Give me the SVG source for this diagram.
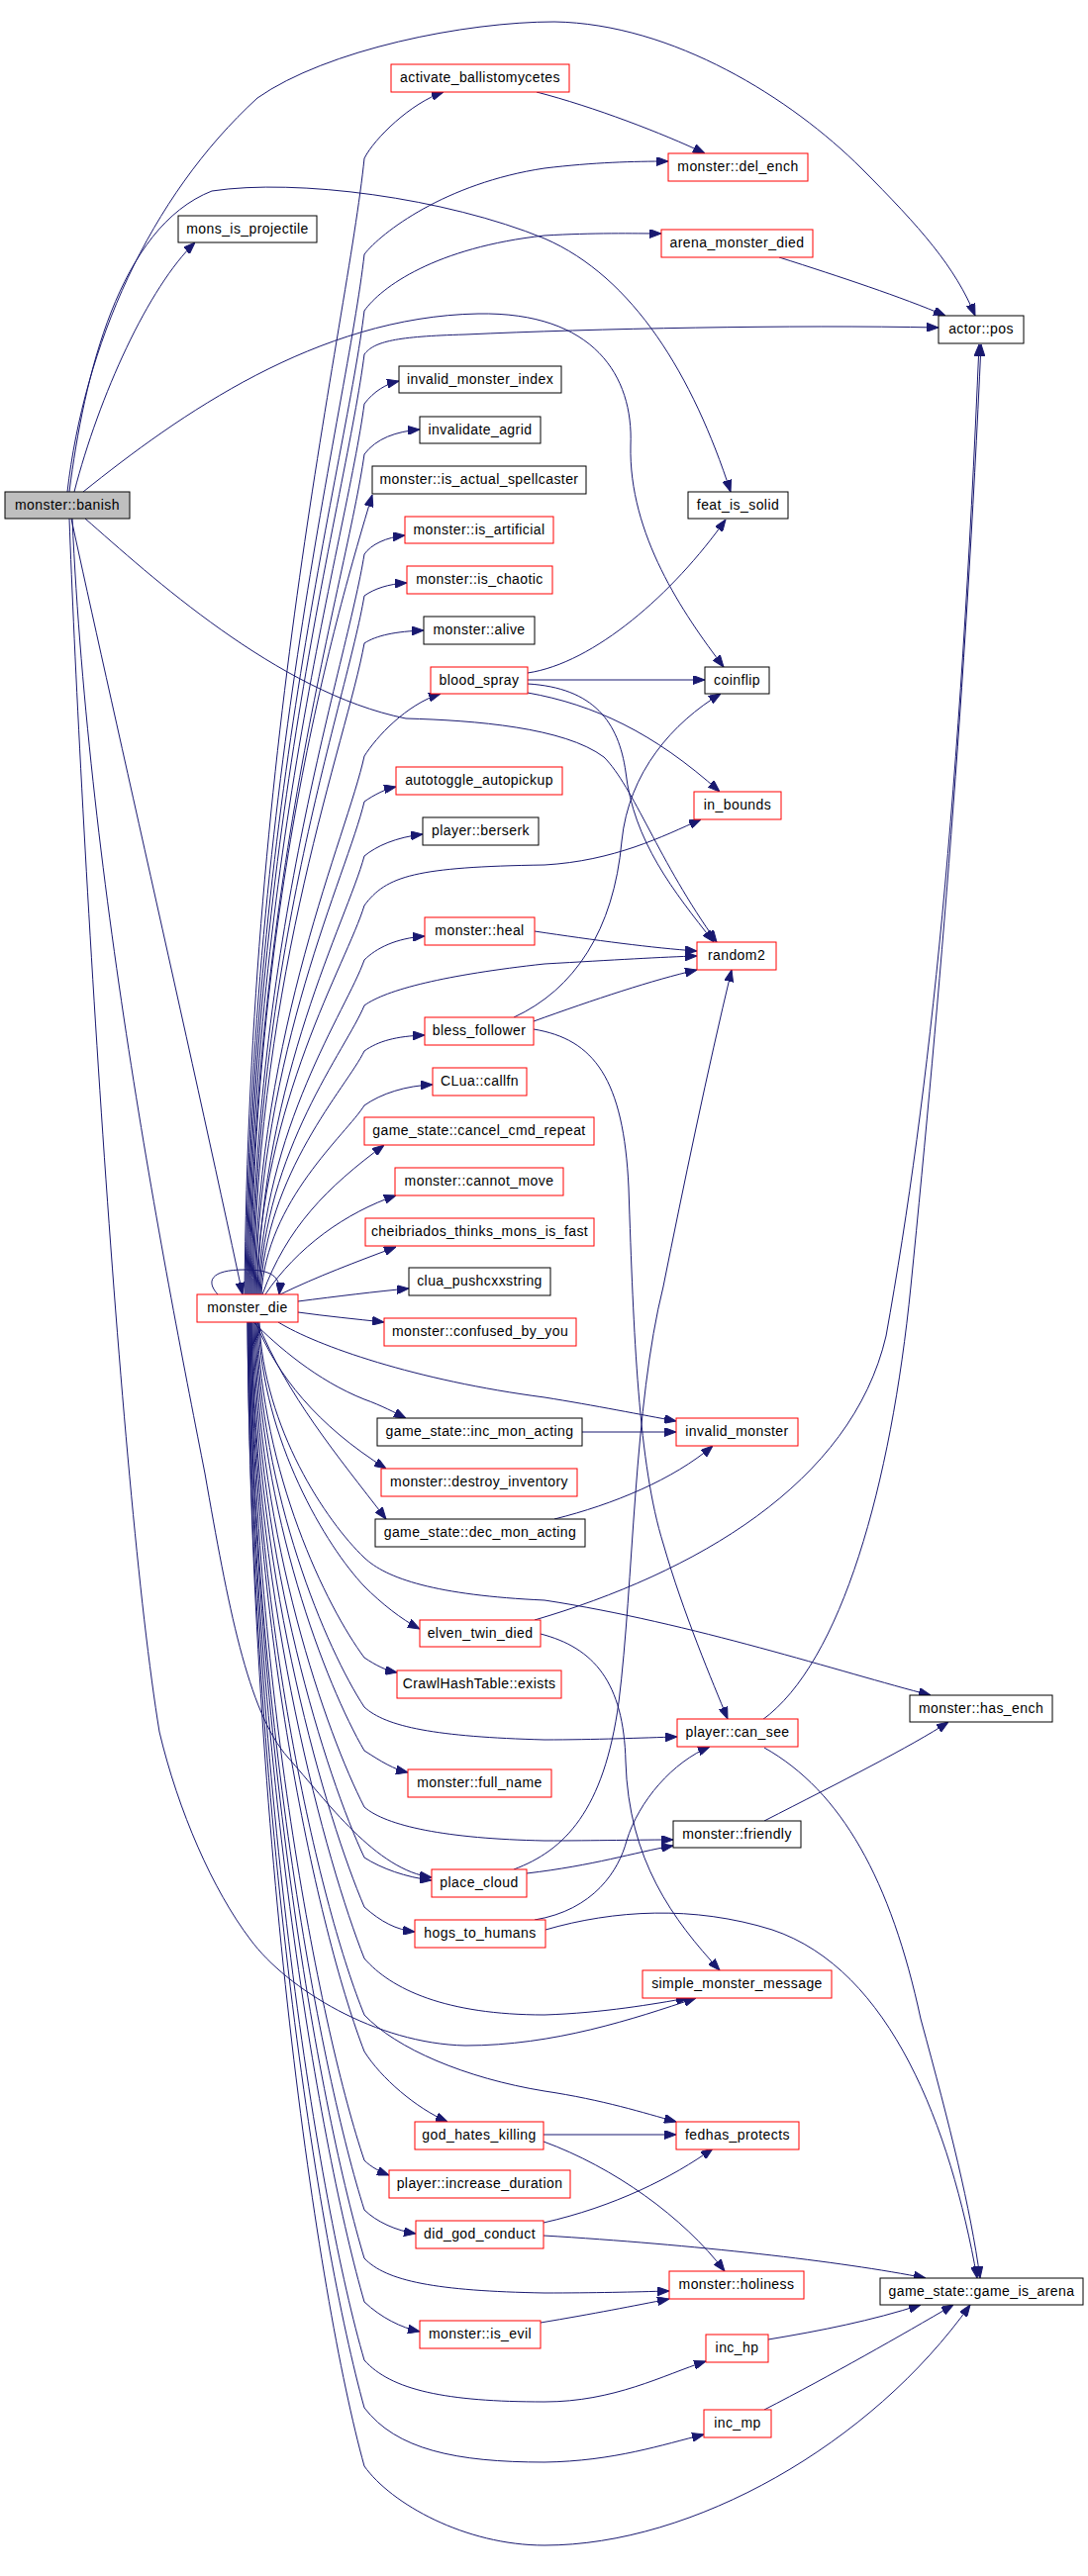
<svg xmlns="http://www.w3.org/2000/svg" width="1099" height="2603" viewBox="0 0 1099 2603">
<defs>
<marker id="a" markerWidth="12" markerHeight="9" refX="12" refY="4.5" orient="auto" markerUnits="userSpaceOnUse"><path d="M0,0 L12,4.5 L0,9 z" fill="#191970" stroke="#191970" stroke-width="1"/></marker>
<style>
.e path{fill:none;stroke:#191970;stroke-width:1;marker-end:url(#a)}
.node rect{fill:#ffffff;stroke:#000000;stroke-width:1}
.node.r rect{stroke:#ff0000}
.node.root rect{fill:#bfbfbf}
.node text{font-family:"Liberation Sans",Arial,sans-serif;font-size:14px;letter-spacing:0.42px;text-anchor:middle;fill:#000000}
</style>
</defs>
<rect width="1099" height="2603" fill="#ffffff"/>
<g id="connectors" class="e">
<!-- monster::banish -->
<path d="M68,497 C85,350 150,200 260,99 C330,50 470,22 560,22 C680,24 800,100 870,170 C930,230 965,270 985,319"/>
<path d="M70,497 C85,380 120,230 214,193 C300,180 450,200 550,241 C640,280 700,380 738,497"/>
<path d="M75,497 C100,400 150,290 197,245"/>
<path d="M84,497 C180,420 320,320 483,317 C600,315 640,380 637,450 C635,540 690,620 731,674"/>
<path d="M86,524 C150,580 280,700 410,726 C480,728 570,735 610,765 C640,795 665,870 724,952"/>
<path d="M72,524 C110,700 190,1050 245,1308"/>
<path d="M70,524 C80,800 120,1500 161,1750 C180,1830 215,1910 253,1960 C290,2010 380,2065 470,2067 C560,2067 640,2040 703,2019"/>
<path d="M73,524 C90,900 170,1300 207,1489 C230,1620 250,1730 291,1776 C330,1820 380,1890 436,1897"/>
<!-- monster_die self loop -->
<path d="M220,1308 C208,1295 212,1283 247,1283 C275,1283 284,1290 282,1308"/>
<!-- monster_die upward fan -->
<path d="M247,1308 C252,734 350,332 368,160 C378,140 415,104 448,93"/>
<path d="M248,1308 C253,783 350,415 368,257 C385,235 450,185 550,170 C600,164 640,163 675,163"/>
<path d="M249,1308 C254,811 350,463 368,314 C385,290 440,250 550,238 C600,235 640,236 668,236"/>
<path d="M250,1308 C255,833 350,500 368,358 C378,345 400,340 470,338 C600,332 800,328 948,331"/>
<path d="M251,1308 C256,858 350,543 368,408 C378,395 390,388 403,385"/>
<path d="M252,1308 C257,884 350,586 368,459 C380,443 400,436 424,434"/>
<path d="M253,1308 C258,900 340,620 376,500"/>
<path d="M254,1308 C259,934 350,672 368,560 C375,550 390,543 409,541"/>
<path d="M255,1308 C260,955 350,708 368,602 C378,595 392,590 411,589"/>
<path d="M256,1308 C261,979 350,749 368,650 C380,642 400,638 428,637"/>
<path d="M257,1308 C262,1036 350,846 368,764 C380,745 410,712 445,701"/>
<path d="M258,1308 C263,1059 350,885 368,810 C378,803 390,797 400,795"/>
<path d="M259,1308 C264,1112 350,974 368,915 C390,885 420,876 550,874 C620,870 670,845 708,828"/>
<path d="M260,1308 C265,1087 350,931 368,865 C380,855 400,846 427,843"/>
<path d="M261,1308 C266,1139 350,1021 368,970 C380,958 400,948 429,946"/>
<path d="M262,1308 C267,1162 350,1060 368,1016 C390,1000 450,985 550,974 C620,970 670,967 704,966"/>
<path d="M263,1308 C268,1185 350,1099 368,1062 C382,1052 400,1047 429,1046"/>
<path d="M264,1308 C269,1213 350,1146 368,1117 C385,1105 410,1097 437,1096"/>
<path d="M265,1308 C290,1240 330,1200 388,1157"/>
<path d="M268,1308 C300,1260 350,1225 400,1208"/>
<path d="M283,1308 C320,1290 360,1275 400,1260"/>
<path d="M301,1315 C340,1310 380,1305 413,1302"/>
<path d="M301,1326 C330,1330 360,1333 388,1336"/>
<!-- monster_die downward fan -->
<path d="M256,1336 C280,1360 320,1395 368,1414 C385,1420 400,1428 410,1433"/>
<path d="M281,1336 C320,1360 420,1395 550,1412 C600,1420 650,1430 683,1436"/>
<path d="M258,1336 C280,1390 320,1440 390,1484"/>
<path d="M260,1336 C290,1410 340,1470 390,1535"/>
<path d="M262,1336 C266,1443 330,1538 368,1574 C390,1595 440,1612 550,1617 C700,1640 850,1690 940,1713"/>
<path d="M261,1336 C265,1456 330,1563 368,1603 C385,1620 405,1636 424,1646"/>
<path d="M260,1336 C264,1489 330,1624 368,1675 C380,1683 390,1688 401,1690"/>
<path d="M259,1336 C263,1511 330,1667 368,1725 C390,1745 440,1755 550,1758 C600,1758 650,1756 684,1755"/>
<path d="M258,1336 C262,1531 330,1704 368,1769 C385,1780 398,1788 412,1791"/>
<path d="M257,1336 C261,1557 330,1752 368,1826 C390,1845 450,1858 550,1860 C600,1860 650,1859 680,1859"/>
<path d="M256,1336 C260,1579 330,1796 368,1877 C385,1888 410,1897 436,1900"/>
<path d="M255,1336 C259,1602 330,1838 368,1927 C385,1942 400,1950 419,1952"/>
<path d="M254,1336 C258,1625 330,1883 368,1979 C395,2010 450,2036 550,2036 C610,2034 660,2025 695,2019"/>
<path d="M254,1336 C258,1651 325,1931 368,2036 C400,2070 470,2100 550,2113 C610,2122 650,2135 683,2144"/>
<path d="M253,1336 C257,1668 325,1962 368,2073 C385,2100 420,2130 452,2144"/>
<path d="M253,1336 C257,1717 325,2056 368,2183 C375,2190 385,2195 393,2198"/>
<path d="M252,1336 C256,1740 325,2098 368,2233 C380,2245 400,2254 420,2257"/>
<path d="M252,1336 C256,1762 325,2140 368,2282 C390,2305 440,2315 550,2317 C600,2317 640,2316 676,2315"/>
<path d="M251,1336 C255,1782 325,2178 368,2326 C385,2342 405,2352 424,2356"/>
<path d="M251,1336 C255,1808 322,2228 368,2385 C395,2415 450,2427 550,2427 C620,2427 670,2400 713,2386"/>
<path d="M250,1336 C254,1830 322,2268 368,2433 C400,2475 460,2488 550,2488 C620,2487 670,2470 711,2460"/>
<path d="M250,1336 C254,1856 320,2319 368,2492 C395,2530 470,2572 550,2572 C700,2572 880,2470 980,2329"/>
<!-- other edges -->
<path d="M542,93 C600,108 670,135 712,155"/>
<path d="M787,260 C850,280 910,300 955,319"/>
<path d="M533,680 C600,670 680,600 733,525"/>
<path d="M533,687 L712,687"/>
<path d="M533,700 C600,712 660,740 727,800"/>
<path d="M533,691 C600,695 625,730 632,780 C640,850 680,900 721,952"/>
<path d="M540,941 C600,950 660,958 704,961"/>
<path d="M519,1028 C580,1000 620,940 628,850 C635,780 680,730 728,701"/>
<path d="M539,1032 C600,1010 660,990 704,980"/>
<path d="M539,1040 C600,1050 630,1090 635,1200 C640,1350 645,1480 670,1560 C690,1630 720,1700 735,1737"/>
<path d="M519,1889 C570,1870 610,1830 625,1720 C640,1600 640,1420 670,1300 C690,1200 715,1080 739,980"/>
<path d="M532,1893 C600,1885 640,1872 680,1865"/>
<path d="M540,1940 C600,1930 625,1890 633,1860 C645,1820 680,1780 717,1765"/>
<path d="M551,1950 C620,1930 700,1925 780,1950 C900,1990 960,2150 987,2302"/>
<path d="M772,1766 C850,1810 900,1900 930,2040 C960,2150 980,2230 990,2302"/>
<path d="M770,1738 C850,1680 900,1500 920,1300 C950,1000 975,700 991,348"/>
<path d="M540,1637 C700,1590 860,1500 895,1350 C940,1100 970,800 989,348"/>
<path d="M546,1651 C600,1665 630,1700 632,1780 C635,1880 680,1940 727,1991"/>
<path d="M772,1840 C850,1800 920,1765 958,1740"/>
<path d="M588,1447 L683,1447"/>
<path d="M560,1535 C620,1520 680,1495 720,1461"/>
<path d="M549,2157 L683,2157"/>
<path d="M549,2164 C620,2190 690,2240 732,2295"/>
<path d="M549,2246 C620,2230 680,2200 720,2171"/>
<path d="M549,2259 C700,2268 850,2285 935,2302"/>
<path d="M546,2347 C600,2338 640,2330 676,2323"/>
<path d="M776,2364 C830,2355 880,2345 930,2329"/>
<path d="M772,2435 C840,2400 910,2360 963,2329"/>
</g>
<g id="n-monster-banish" class="node root"><rect x="5" y="497" width="126" height="27"/><text x="68" y="515">monster::banish</text></g>
<g id="n-mons-is-projectile" class="node"><rect x="180" y="218" width="140" height="27"/><text x="250" y="236">mons_is_projectile</text></g>
<g id="n-activate-ballistomycetes" class="node r"><rect x="395" y="65" width="180" height="28"/><text x="485" y="83">activate_ballistomycetes</text></g>
<g id="n-del-ench" class="node r"><rect x="675" y="155" width="141" height="28"/><text x="745.5" y="173">monster::del_ench</text></g>
<g id="n-arena-monster-died" class="node r"><rect x="668" y="232" width="153" height="28"/><text x="744.5" y="250">arena_monster_died</text></g>
<g id="n-actor-pos" class="node"><rect x="948" y="319" width="86" height="28"/><text x="991" y="337">actor::pos</text></g>
<g id="n-invalid-monster-index" class="node"><rect x="403" y="370" width="164" height="27"/><text x="485" y="388">invalid_monster_index</text></g>
<g id="n-invalidate-agrid" class="node"><rect x="424" y="421" width="122" height="27"/><text x="485" y="439">invalidate_agrid</text></g>
<g id="n-is-actual-spellcaster" class="node"><rect x="376" y="471" width="216" height="28"/><text x="484" y="489">monster::is_actual_spellcaster</text></g>
<g id="n-is-artificial" class="node r"><rect x="409" y="522" width="150" height="27"/><text x="484" y="540">monster::is_artificial</text></g>
<g id="n-is-chaotic" class="node r"><rect x="411" y="572" width="147" height="28"/><text x="484.5" y="590">monster::is_chaotic</text></g>
<g id="n-alive" class="node"><rect x="428" y="623" width="112" height="28"/><text x="484" y="641">monster::alive</text></g>
<g id="n-feat-is-solid" class="node"><rect x="695" y="497" width="101" height="27"/><text x="745.5" y="515">feat_is_solid</text></g>
<g id="n-blood-spray" class="node r"><rect x="435" y="674" width="98" height="27"/><text x="484" y="692">blood_spray</text></g>
<g id="n-coinflip" class="node"><rect x="712" y="674" width="65" height="27"/><text x="744.5" y="692">coinflip</text></g>
<g id="n-autotoggle-autopickup" class="node r"><rect x="400" y="775" width="168" height="28"/><text x="484" y="793">autotoggle_autopickup</text></g>
<g id="n-in-bounds" class="node r"><rect x="701" y="800" width="88" height="28"/><text x="745" y="818">in_bounds</text></g>
<g id="n-player-berserk" class="node"><rect x="427" y="826" width="117" height="28"/><text x="485.5" y="844">player::berserk</text></g>
<g id="n-monster-heal" class="node r"><rect x="429" y="927" width="111" height="28"/><text x="484.5" y="945">monster::heal</text></g>
<g id="n-random2" class="node r"><rect x="704" y="952" width="80" height="28"/><text x="744" y="970">random2</text></g>
<g id="n-bless-follower" class="node r"><rect x="429" y="1028" width="110" height="28"/><text x="484" y="1046">bless_follower</text></g>
<g id="n-clua-callfn" class="node r"><rect x="437" y="1079" width="95" height="28"/><text x="484.5" y="1097">CLua::callfn</text></g>
<g id="n-cancel-cmd-repeat" class="node r"><rect x="368" y="1129" width="232" height="28"/><text x="484" y="1147">game_state::cancel_cmd_repeat</text></g>
<g id="n-cannot-move" class="node r"><rect x="399" y="1180" width="170" height="28"/><text x="484" y="1198">monster::cannot_move</text></g>
<g id="n-cheibriados" class="node r"><rect x="369" y="1231" width="231" height="28"/><text x="484.5" y="1249">cheibriados_thinks_mons_is_fast</text></g>
<g id="n-clua-pushcxxstring" class="node"><rect x="413" y="1281" width="143" height="28"/><text x="484.5" y="1299">clua_pushcxxstring</text></g>
<g id="n-monster-die" class="node r"><rect x="199" y="1308" width="102" height="28"/><text x="250" y="1326">monster_die</text></g>
<g id="n-confused-by-you" class="node r"><rect x="388" y="1332" width="194" height="28"/><text x="485" y="1350">monster::confused_by_you</text></g>
<g id="n-inc-mon-acting" class="node"><rect x="381" y="1433" width="207" height="28"/><text x="484.5" y="1451">game_state::inc_mon_acting</text></g>
<g id="n-invalid-monster" class="node r"><rect x="683" y="1433" width="123" height="28"/><text x="744.5" y="1451">invalid_monster</text></g>
<g id="n-destroy-inventory" class="node r"><rect x="385" y="1484" width="198" height="28"/><text x="484" y="1502">monster::destroy_inventory</text></g>
<g id="n-dec-mon-acting" class="node"><rect x="379" y="1535" width="212" height="28"/><text x="485" y="1553">game_state::dec_mon_acting</text></g>
<g id="n-elven-twin-died" class="node r"><rect x="424" y="1637" width="122" height="27"/><text x="485" y="1655">elven_twin_died</text></g>
<g id="n-crawlhashtable-exists" class="node r"><rect x="401" y="1688" width="166" height="28"/><text x="484" y="1706">CrawlHashTable::exists</text></g>
<g id="n-has-ench" class="node"><rect x="919" y="1713" width="144" height="27"/><text x="991" y="1731">monster::has_ench</text></g>
<g id="n-player-can-see" class="node r"><rect x="684" y="1737" width="122" height="28"/><text x="745" y="1755">player::can_see</text></g>
<g id="n-full-name" class="node r"><rect x="412" y="1788" width="145" height="28"/><text x="484.5" y="1806">monster::full_name</text></g>
<g id="n-friendly" class="node"><rect x="680" y="1840" width="129" height="27"/><text x="744.5" y="1858">monster::friendly</text></g>
<g id="n-place-cloud" class="node r"><rect x="436" y="1889" width="96" height="28"/><text x="484" y="1907">place_cloud</text></g>
<g id="n-hogs-to-humans" class="node r"><rect x="419" y="1940" width="132" height="28"/><text x="485" y="1958">hogs_to_humans</text></g>
<g id="n-simple-monster-message" class="node r"><rect x="649" y="1991" width="191" height="28"/><text x="744.5" y="2009">simple_monster_message</text></g>
<g id="n-god-hates-killing" class="node r"><rect x="419" y="2144" width="130" height="28"/><text x="484" y="2162">god_hates_killing</text></g>
<g id="n-fedhas-protects" class="node r"><rect x="683" y="2144" width="124" height="28"/><text x="745" y="2162">fedhas_protects</text></g>
<g id="n-increase-duration" class="node r"><rect x="393" y="2193" width="183" height="28"/><text x="484.5" y="2211">player::increase_duration</text></g>
<g id="n-did-god-conduct" class="node r"><rect x="420" y="2244" width="129" height="28"/><text x="484.5" y="2262">did_god_conduct</text></g>
<g id="n-holiness" class="node r"><rect x="676" y="2295" width="136" height="28"/><text x="744" y="2313">monster::holiness</text></g>
<g id="n-game-is-arena" class="node"><rect x="889" y="2302" width="205" height="27"/><text x="991.5" y="2320">game_state::game_is_arena</text></g>
<g id="n-is-evil" class="node r"><rect x="424" y="2345" width="122" height="28"/><text x="485" y="2363">monster::is_evil</text></g>
<g id="n-inc-hp" class="node r"><rect x="713" y="2359" width="63" height="28"/><text x="744.5" y="2377">inc_hp</text></g>
<g id="n-inc-mp" class="node r"><rect x="711" y="2435" width="68" height="28"/><text x="745" y="2453">inc_mp</text></g>
</svg>
